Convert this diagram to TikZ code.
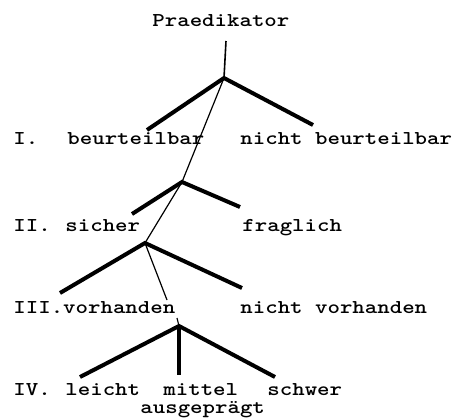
\documentclass[tikz,border=0pt]{standalone}
\usepackage{tikz}
\usepackage{graphicx}

\newcommand{\tw}[1]{\scalebox{1.21}[1]{#1}}

\begin{document}
\begin{tikzpicture}[x=0.5pt,y=-0.5pt,
  lbl/.style={anchor=base west,inner sep=0pt,font=\ttfamily\bfseries\fontsize{9.8}{12}\selectfont},
  thickline/.style={line width=2pt},
  thinline/.style={line width=0.6pt}]
\useasboundingbox (0,0) rectangle (456,419);
% labels
\node (praed) [lbl] at (152,26) {\tw{Praedikator}};
\node (l1) [lbl] at (13,144) {\tw{I.}};
\node (beurt) [lbl] at (67,144) {\tw{beurteilbar}};
\node (nbeurt) [lbl] at (240,144) {\tw{nicht beurteilbar}};
\node (l2) [lbl] at (13,231) {\tw{II.}};
\node (sicher) [lbl] at (65,231) {\tw{sicher}};
\node (fragl) [lbl] at (242,231) {\tw{fraglich}};
\node (vorh) [lbl] at (13,313) {\tw{III.vorhanden}};
\node (nvorh) [lbl] at (240,313) {\tw{nicht vorhanden}};
\node (l4) [lbl] at (13,395) {\tw{IV.}};
\node (leicht) [lbl] at (65,395) {\tw{leicht}};
\node (mittel) [lbl] at (163,395) {\tw{mittel}};
\node (schwer) [lbl] at (267,395) {\tw{schwer}};
\node (ausgepr) [lbl] at (140,413) {\tw{ausgeprägt}};
% branch points and line ends
\coordinate (top) at (226,41);
\coordinate (j1) at (224,78);
\coordinate (j2) at (182,182);
\coordinate (j3) at (145,243);
\coordinate (j4) at (179,326);
\coordinate (e1l) at (147,130);
\coordinate (e1r) at (313,125);
\coordinate (e2l) at (132,214);
\coordinate (e2r) at (240,207);
\coordinate (e3l) at (60,293);
\coordinate (e3r) at (242,288);
\coordinate (e3m) at (167,300);
\coordinate (s4) at (177,318);
\coordinate (e4l) at (80,377);
\coordinate (e4m) at (179,375);
\coordinate (e4r) at (275,377);
\draw[line width=0.8pt] (top) -- (j1);
\draw[thickline] (e1l) -- (j1) -- (e1r);
\draw[thinline] (j1) -- (j2) -- (j3);
\draw[thickline] (e2l) -- (j2) -- (e2r);
\draw[thickline] (e3l) -- (j3) -- (e3r);
\draw[thinline] (j3) -- (e3m);
\draw[thinline] (s4) -- (j4);
\draw[thickline] (e4l) -- (j4) -- (e4r);
\draw[thickline] (j4) -- (e4m);
\end{tikzpicture}
\end{document}
